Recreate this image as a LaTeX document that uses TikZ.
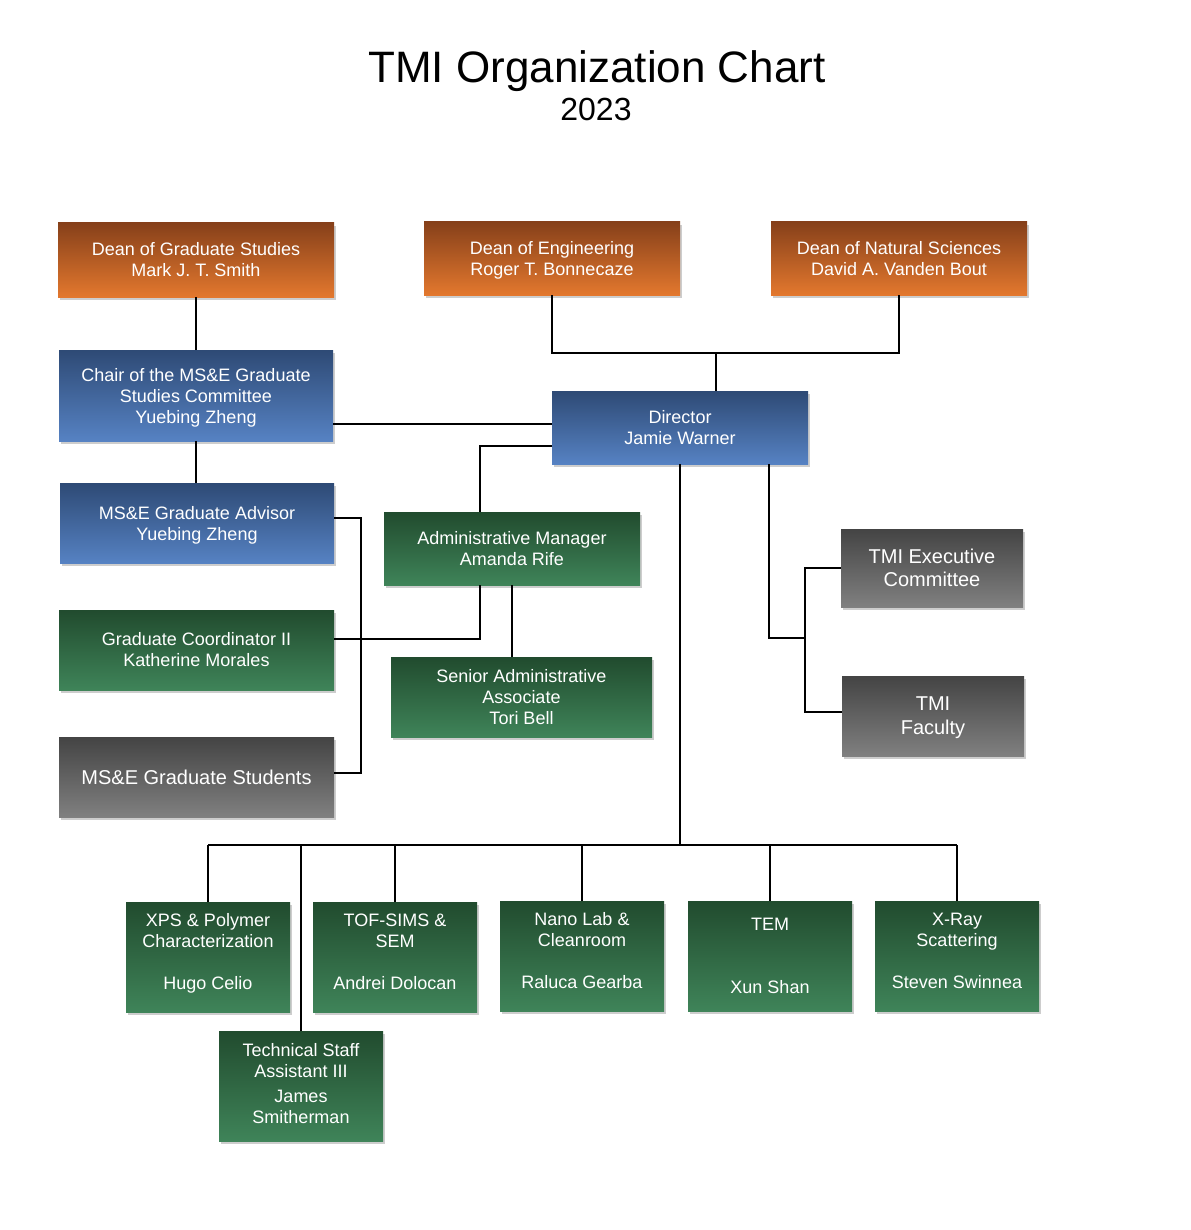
\documentclass[tikz,border=0pt]{standalone}
\usepackage{fontspec}
\setmainfont{Liberation Sans}
\usetikzlibrary{shadows,calc}
\definecolor{orT}{HTML}{86401A}
\definecolor{orB}{HTML}{E3782E}
\definecolor{blT}{HTML}{2E4A75}
\definecolor{blB}{HTML}{5682C3}
\definecolor{grT}{HTML}{214B2E}
\definecolor{grB}{HTML}{3F8459}
\definecolor{gyT}{HTML}{444444}
\definecolor{gyB}{HTML}{808080}
\newcommand{\nodepthline}[1]{\raisebox{0pt}[\height][0pt]{#1}}
\begin{document}
\begin{tikzpicture}[x=0.5pt,y=-0.5pt,
  boxbase/.style={rectangle, draw=none, text=white, align=center, inner sep=0pt,
    font=\fontsize{9}{10.5}\selectfont,
    drop shadow={shadow xshift=1.2pt, shadow yshift=-1.5pt, opacity=0.28, fill=black!70}},
  orangebox/.style={boxbase, top color=orT, bottom color=orB},
  bluebox/.style={boxbase, top color=blT, bottom color=blB},
  greenbox/.style={boxbase, top color=grT, bottom color=grB},
  graybox/.style={boxbase, top color=gyT, bottom color=gyB, font=\fontsize{10}{11.75}\selectfont},
  labbox/.style={greenbox, minimum width=82pt, minimum height=55pt},
  conn/.style={draw=black, line width=1pt}]
\useasboundingbox[fill=white] (0,0) rectangle (1190,1230);

% titles
\node[anchor=base, font=\fontsize{22}{26}\selectfont] (title) at (597,83) {TMI Organization Chart};
\node[anchor=base, font=\fontsize{16}{19}\selectfont] (year) at (596,121) {2023};

% deans
\node[orangebox, minimum width=138pt, minimum height=37pt] (dgs) at (196,260) {Dean of Graduate Studies\\Mark J. T. Smith};
\node[orangebox, minimum width=128pt, minimum height=36.5pt] (deng) at (552,258.5) {Dean of Engineering\\\nodepthline{Roger T. Bonnecaze}};
\node[orangebox, minimum width=128pt, minimum height=36.5pt] (dnat) at (899,258.5) {Dean of Natural Sciences\\David A. Vanden Bout};

% blue
\node[bluebox, minimum width=137pt, minimum height=45.5pt] (chair) at (196,395.5) {Chair of the MS\&E Graduate\\Studies Committee\\\nodepthline{Yuebing Zheng}};
\node[bluebox, minimum width=128pt, minimum height=36.5pt] (dir) at (680,427.5) {Director\\Jamie Warner};
\node[bluebox, minimum width=137pt, minimum height=40pt] (adv) at (197,523) {MS\&E Graduate Advisor\\\nodepthline{Yuebing Zheng}};

% green admin
\node[greenbox, minimum width=128pt, minimum height=36.5pt] (adm) at (512,548.5) {Administrative Manager\\Amanda Rife};
\node[greenbox, minimum width=137.5pt, minimum height=40pt] (gc) at (196.5,650) {Graduate Coordinator II\\Katherine Morales};
\node[greenbox, minimum width=130.5pt, minimum height=40pt] (sa) at (521.5,697) {Senior Administrative\\Associate\\Tori Bell};

% gray
\node[graybox, minimum width=137.5pt, minimum height=40pt] (stu) at (196.5,777) {MS\&E Graduate Students};
\node[graybox, minimum width=91pt, minimum height=39pt] (exec) at (932,568) {TMI Executive\\Committee};
\node[graybox, minimum width=91pt, minimum height=40pt, font=\fontsize{10}{12}\selectfont] (fac) at (933,716) {TMI\\\nodepthline{Faculty}};

% labs
\node[labbox] (xps) at (208,957) {XPS \& Polymer\\Characterization\\[10.5pt]Hugo Celio\\[-5pt]\mbox{}};
\node[labbox] (tof) at (395,957) {TOF-SIMS \&\\SEM\\[10.5pt]Andrei Dolocan\\[-5pt]\mbox{}};
\node[labbox] (nano) at (582,956) {Nano Lab \&\\Cleanroom\\[10.5pt]Raluca Gearba\\[-5pt]\mbox{}};
\node[labbox] (tem) at (770,956) {TEM\\[21pt]Xun Shan};
\node[labbox] (xray) at (957,956) {X-Ray\\Scattering\\[10.5pt]Steven Swinnea\\[-5pt]\mbox{}};
\node[labbox] (tech) at (301,1086) {Technical Staff\\Assistant III\\[2pt]James\\Smitherman\\[-7.5pt]\mbox{}};

% connectors
\draw[conn] (dgs.south) -- (chair.north);
\draw[conn] (chair.south) -- (chair.south |- adv.north);

\coordinate (jdean) at (716,353);
\draw[conn] (deng.south) |- (jdean) -| (dnat.south);
\draw[conn] (jdean) -- (jdean |- dir.north);

\coordinate (c1) at ([yshift=-14.25pt]chair.east);
\draw[conn] (c1) -- (c1 -| dir.west);

\coordinate (c2) at ([yshift=-9.25pt]dir.west);
\coordinate (c3) at ([xshift=-16pt]adm.north);
\draw[conn] (c2) -| (c3);

\coordinate (c4) at ([xshift=-16pt]adm.south);
\coordinate (c5) at ([yshift=5.5pt]gc.east);
\draw[conn] (c4) |- (c5);

\draw[conn] (adm.south) -- (adm.south |- sa.north);

\coordinate (c6) at ([yshift=2.5pt]adv.east);
\coordinate (c7) at ([yshift=2pt]stu.east);
\draw[conn] (c6) -- ++(27,0) |- (c7);

\coordinate (bus) at (680,845);
\draw[conn] (dir.south) -- (bus);
\draw[conn] (xps.north |- bus) -- (xray.north |- bus);
\foreach \b in {xps,tof,nano,tem,xray,tech}
  \draw[conn] (\b.north |- bus) -- (\b.north);

\coordinate (c8) at ([xshift=44.5pt]dir.south);
\coordinate (c9) at ([xshift=-18pt]exec.west);
\coordinate (c10) at ([yshift=2pt]fac.west);
\coordinate (c11) at (805,638);
\draw[conn] (exec.west) -- (c9) |- (c10);
\draw[conn] (c8) |- (c11);
\end{tikzpicture}
\end{document}
